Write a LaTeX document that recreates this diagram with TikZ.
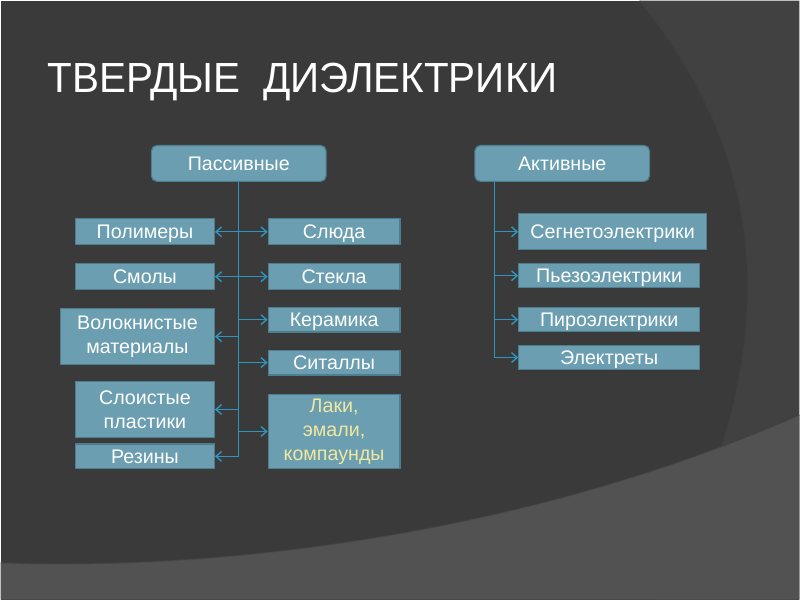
\documentclass[tikz,border=0pt]{standalone}
\usepackage{fontspec}
\setmainfont{Liberation Sans}
\usetikzlibrary{arrows.meta}
\definecolor{slide}{RGB}{58,58,58}
\definecolor{sweep}{RGB}{65,65,65}
\definecolor{floor}{RGB}{82,82,82}
\definecolor{boxfill}{RGB}{106,158,176}
\definecolor{boxline}{RGB}{78,126,142}
\definecolor{linkblue}{RGB}{45,150,190}
\definecolor{lacquer}{RGB}{240,232,160}

\begin{document}
\begin{tikzpicture}[x=0.025cm,y=-0.025cm,
  box/.style={draw=boxline, line width=0.8pt, fill=boxfill, text=white, inner sep=0pt,
    align=center, font=\fontsize{14}{17}\selectfont},
  oneline/.style={box, text height=10pt, text depth=0.5pt},
  head/.style={oneline, rounded corners=4pt, minimum width=4.375cm, minimum height=0.9cm},
  link/.style={draw=linkblue, line width=1pt},
  >={Straight Barb[length=4pt,width=7pt]}]
 % background
 \fill[slide] (0,0) rectangle (800,600);
 \fill[sweep] (640,0) .. controls (760,150) and (800,330) .. (657,600) -- (800,600) -- (800,0) -- cycle;
 \draw[black!75, line width=1pt, opacity=0.5] (640,0) .. controls (760,150) and (800,330) .. (657,600);
 \fill[floor] (0,563) .. controls (250,572) and (550,525) .. (800,415) -- (800,600) -- (0,600) -- cycle;
 \draw[black!75, line width=1pt, opacity=0.5] (0,563) .. controls (250,572) and (550,525) .. (800,415);
 \useasboundingbox (0,0) rectangle (800,600);

 \node[anchor=base west, text=white, font=\fontsize{30}{36}\selectfont] (title) at (42,92)
   {\scalebox{0.96}[1]{ТВЕРДЫЕ\ \ ДИЭЛЕКТРИКИ}};

 % passive
 \node[head] (pas) at (238.5,163) {Пассивные};
 \node[oneline, minimum width=3.475cm, minimum height=0.65cm] (polim) at (144.5,231.5) {Полимеры};
 \node[oneline, minimum width=3.475cm, minimum height=0.65cm] (smol) at (144.5,276.5) {Смолы};
 \node[box, minimum width=3.85cm, minimum height=1.4cm] (volok) at (137,336.5) {Волокнистые\\материалы};
 \node[box, minimum width=3.475cm, minimum height=1.4cm] (sloist) at (144.5,409.5) {Слоистые\\пластики};
 \node[oneline, minimum width=3.475cm, minimum height=0.62cm] (rezin) at (144.5,456.5) {Резины};
 \node[oneline, minimum width=3.3cm, minimum height=0.65cm] (slyud) at (334,231.5) {Слюда};
 \node[oneline, minimum width=3.3cm, minimum height=0.65cm] (stekl) at (334,276.5) {Стекла};
 \node[oneline, minimum width=3.3cm, minimum height=0.62cm] (keram) at (334,319.5) {Керамика};
 \node[oneline, minimum width=3.3cm, minimum height=0.62cm] (sital) at (334,362.5) {Ситаллы};
 \node[box, minimum width=3.3cm, minimum height=1.85cm, text=lacquer] (laki) at (334,431.5) {Лаки,\\эмали,\\компаунды};

 % active
 \node[head] (akt) at (562.5,163) {Активные};
 \node[oneline, minimum width=4.7cm, minimum height=0.9cm] (segn) at (613,231.5) {Сегнетоэлектрики};
 \node[oneline, minimum width=4.525cm, minimum height=0.6cm] (pezo) at (609.5,275.5) {Пьезоэлектрики};
 \node[oneline, minimum width=4.525cm, minimum height=0.6cm] (piro) at (609.5,319.5) {Пироэлектрики};
 \node[oneline, minimum width=4.525cm, minimum height=0.6cm] (elek) at (609.5,357.5) {Электреты};
 \coordinate (akt-root) at ([xshift=0.5125cm]akt.south west);

 \draw[link] (pas.south) -- (pas.south |- rezin.east);
 \foreach \n in {polim,smol,volok,sloist,rezin}
   \draw[link,->] (pas.south |- \n.east) -- (\n.east);
 \foreach \n in {slyud,stekl,keram,sital,laki}
   \draw[link,->] (pas.south |- \n.west) -- (\n.west);
 \draw[link] (akt-root) -- (akt-root |- elek.west);
 \foreach \n in {segn,pezo,piro,elek}
   \draw[link,->] (akt-root |- \n.west) -- (\n.west);
\end{tikzpicture}
\end{document}
